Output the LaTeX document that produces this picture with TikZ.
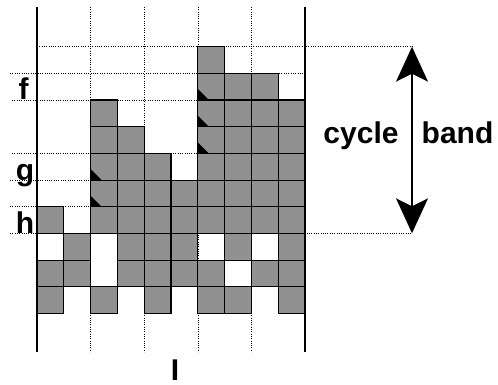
\documentclass[tikz,border=0pt]{standalone}
\usepackage{fontspec}
\setmainfont{Liberation Sans}
\usetikzlibrary{arrows.meta}
\definecolor{cellgray}{RGB}{145,145,145}
\begin{document}
\begin{tikzpicture}[x=1pt,y=-1pt,
  gridline/.style={line width=0.6pt, dash pattern=on 1pt off 1.3pt},
  frameline/.style={line width=1.2pt},
  cell/.style={fill=cellgray, draw=black, line width=1.1pt},
  lab/.style={font=\fontsize{30}{36}\selectfont\bfseries, inner sep=0pt, anchor=base},
  corner/.style={fill=black},
  bandarrow/.style={{Stealth[length=35pt,width=32pt,inset=8pt]}-{Stealth[length=35pt,width=32pt,inset=8pt]}, line width=1.4pt}]
\useasboundingbox (0,0) rectangle (498,385);
% dotted grid
\foreach \x in {90.6,144.2,197.8,251.4}
  \draw[gridline] (\x,7) -- (\x,352);
\draw[gridline] (37,46.7) -- (412,46.7);
\draw[gridline] (10,73.3) -- (305,73.3);
\draw[gridline] (12,100) -- (305,100);
\draw[gridline] (12,153.3) -- (305,153.3);
\draw[gridline] (10,180) -- (305,180);
\draw[gridline] (10,206.7) -- (305,206.7);
\draw[gridline] (10,233.3) -- (412,233.3);
% filled cells
\foreach \c/\r in {6/0,
  6/1,7/1,8/1,
  2/2,6/2,7/2,8/2,9/2,
  2/3,3/3,6/3,7/3,8/3,9/3,
  2/4,3/4,4/4,6/4,7/4,8/4,9/4,
  2/5,3/5,4/5,5/5,6/5,7/5,8/5,9/5,
  0/6,2/6,3/6,4/6,5/6,6/6,7/6,8/6,9/6,
  1/7,3/7,4/7,5/7,7/7,9/7,
  0/8,1/8,3/8,4/8,5/8,6/8,8/8,9/8,
  0/9,2/9,4/9,6/9,7/9,9/9}
  \draw[cell] ({37+26.8*\c},{46.7+26.67*\r}) rectangle ++(26.8,26.67);
% black corner marks
\foreach \c/\r in {6/1,6/2,6/3,2/4,2/5}
  \fill[corner] ({37+26.8*\c},{46.7+26.67*(\r+1)}) -- ++(0,-11) -- ++(11,11) -- cycle;
% solid frame lines
\draw[frameline] (37,7) -- (37,352);
\draw[frameline] (305,7) -- (305,352);
% labels
\node[lab] (f) at (23.5,100) {f};
\node[lab] (g) at (25,180) {g};
\node[lab] (h) at (25,233.3) {h};
\node[lab] (I) at (175,380) {I};
\node[lab] (cycle) at (361,143) {cycle};
\node[lab] (band) at (457.5,143) {band};
% cycle band arrow
\coordinate (bandtop) at (412,46.7);
\coordinate (bandbot) at (412,233.3);
\draw[bandarrow] (bandtop) -- (bandbot);
\end{tikzpicture}
\end{document}
